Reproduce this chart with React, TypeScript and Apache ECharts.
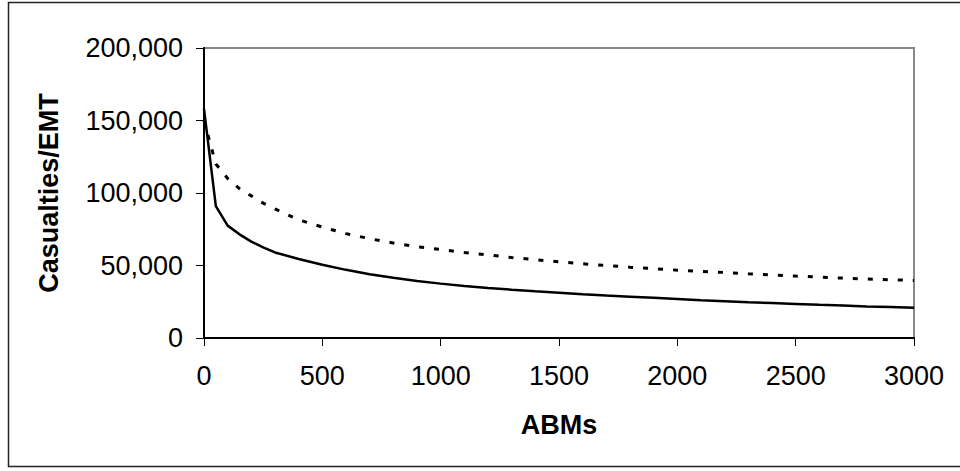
import React, { useEffect, useRef } from "react";
import * as echarts from "echarts";

const abms = [0, 50, 100, 150, 200, 250, 300, 400, 500, 600, 700, 800, 900, 1000, 1100, 1200, 1300, 1400, 1500, 1600, 1700, 1800, 1900, 2000, 2100, 2200, 2300, 2400, 2500, 2600, 2700, 2800, 2900, 3000];
const solidCasualties = [158000, 91000, 77500, 71500, 66500, 62500, 59000, 54500, 50500, 47000, 44000, 41500, 39300, 37500, 35800, 34500, 33300, 32200, 31200, 30200, 29300, 28500, 27700, 26900, 26100, 25400, 24700, 24100, 23500, 22900, 22400, 21800, 21300, 20800];
const dashedCasualties = [150000, 120000, 110000, 103000, 98000, 93000, 89000, 81500, 76500, 72000, 68500, 65500, 63000, 61000, 59000, 57300, 55500, 54000, 52500, 51200, 50000, 48800, 47800, 46800, 46000, 45200, 44300, 43500, 42700, 42000, 41300, 40700, 40200, 39700];
const yTicks = { min: 0, max: 200000, interval: 50000 };
const xTicks = { min: 0, max: 3000, interval: 500 };

const FONT = '"Liberation Sans", Arial, sans-serif';
const FS = 27;

export default function App() {
  const ref = useRef<HTMLDivElement>(null);
  useEffect(() => {
    if (!ref.current) return;
    const chart = echarts.init(ref.current, undefined, { renderer: "svg" });
    chart.setOption({
      animation: false,
      backgroundColor: "#ffffff",
      graphic: [
        {
          type: "rect",
          shape: { x: 8.5, y: 2.5, width: 960, height: 464 },
          style: { fill: "none", stroke: "#222222", lineWidth: 1.5 },
          z: 0,
        },
      ],
      grid: {
        left: 204,
        right: 46,
        top: 48,
        bottom: 133,
        show: true,
        borderColor: "#888888",
        borderWidth: 2,
        backgroundColor: "transparent",
      },
      xAxis: {
        type: "value",
        min: xTicks.min,
        max: xTicks.max,
        interval: xTicks.interval,
        name: "ABMs",
        nameLocation: "middle",
        nameGap: 73,
        nameTextStyle: { fontFamily: FONT, fontSize: FS, fontWeight: "bold", color: "#000" },
        axisLine: { show: true, onZero: false, lineStyle: { color: "#000", width: 2 } },
        axisTick: { show: true, inside: false, length: 8, lineStyle: { color: "#000", width: 1 } },
        axisLabel: {
          margin: 24,
          fontFamily: FONT,
          fontSize: FS,
          color: "#000",
          formatter: (v: number) => String(v),
        },
        splitLine: { show: false },
      },
      yAxis: {
        type: "value",
        min: yTicks.min,
        max: yTicks.max,
        interval: yTicks.interval,
        name: "Casualties/EMT",
        nameLocation: "middle",
        nameGap: 142,
        nameTextStyle: { fontFamily: FONT, fontSize: FS, fontWeight: "bold", color: "#000" },
        axisLine: { show: true, lineStyle: { color: "#000", width: 2 } },
        axisTick: { show: true, inside: false, length: 8, lineStyle: { color: "#000", width: 1 } },
        axisLabel: {
          margin: 21,
          fontFamily: FONT,
          fontSize: FS,
          color: "#000",
          formatter: (v: number) => v.toLocaleString("en-US"),
        },
        splitLine: { show: false },
      },
      series: [
        {
          type: "line",
          data: abms.map((x, i) => [x, dashedCasualties[i]]),
          symbol: "none",
          lineStyle: { color: "#000", width: 3, type: [5, 10] },
          z: 3,
        },
        {
          type: "line",
          data: abms.map((x, i) => [x, solidCasualties[i]]),
          symbol: "none",
          lineStyle: { color: "#000", width: 2.5 },
          z: 3,
        },
      ],
    });
    return () => chart.dispose();
  }, []);
  return (
    <div
      ref={ref}
      style={{ position: "fixed", left: 0, top: 0, width: 960, height: 471 }}
    />
  );
}
